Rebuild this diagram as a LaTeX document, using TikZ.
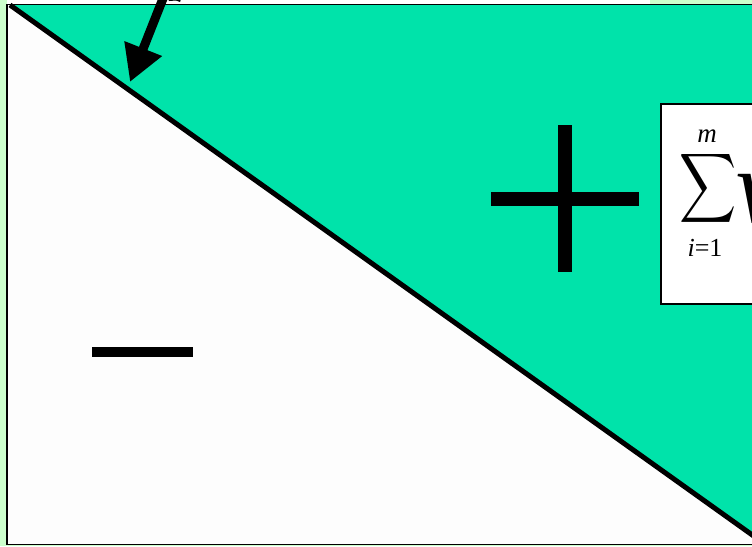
\documentclass[tikz,border=0pt]{standalone}
\usepackage{fontspec}
\setmainfont{Liberation Serif}
\usetikzlibrary{arrows.meta}
\definecolor{bgreen}{HTML}{CCFFCC}
\definecolor{teal}{HTML}{00E3AA}
\definecolor{paper}{HTML}{FDFDFD}
\tikzset{
  frame/.style={draw=black, line width=1.5pt},
  bar/.style={fill=black, draw=none},
  bigarrow/.style={line width=9pt, -{Triangle[length=36pt,width=38pt]}},
  txt/.style={inner sep=0pt, outer sep=0pt}
}
\begin{document}
\begin{tikzpicture}[x=1pt,y=-1pt]
\useasboundingbox (0,0) rectangle (752,546);
\fill[bgreen] (0,0) rectangle (752,546);
\fill[white] (7,-1) rectangle (650,4);
% main region
\fill[paper] (7,4.5) rectangle (760,544.5);
\fill[teal] (10,5) -- (760,5) -- (760,540.5) -- cycle;
\draw[frame] (760,4.5) -- (7,4.5) -- (7,544.5) -- (760,544.5);
\coordinate (d1) at (10,5);
\coordinate (d2) at (760,540.5);
\draw[line width=5pt] (d1) -- (d2);
% arrow
\coordinate (as) at (164,-4);
\coordinate (ae) at (130,82);
\draw[bigarrow] (as) -- (ae);
\fill[black] (168,-1) -- (181,-1) -- (180,2) -- (176,0.5) -- (169,1) -- cycle;
% plus and minus
\fill[bar] (491,192) rectangle (639,205.5);
\fill[bar] (558,125) rectangle (572,272);
\fill[bar] (92,347) rectangle (193,357);
% formula box
\node[frame, fill=white, minimum width=100pt, minimum height=200pt, anchor=north west, inner sep=0pt] (box) at (660,103) {};
\node[txt] (sig) at (708.5,188) {\scalebox{3.96}[4.85]{$\displaystyle\sum$}};
\node[txt, anchor=base] (m) at (707,142) {\fontsize{27}{30}\selectfont\itshape m};
\node[txt, anchor=base] (lim) at (705,256) {\fontsize{26}{28}\selectfont\itshape i\upshape=1};
\node[txt, anchor=base west] (w) at (735,222) {\fontsize{105}{110}\selectfont\itshape w};
\end{tikzpicture}
\end{document}
